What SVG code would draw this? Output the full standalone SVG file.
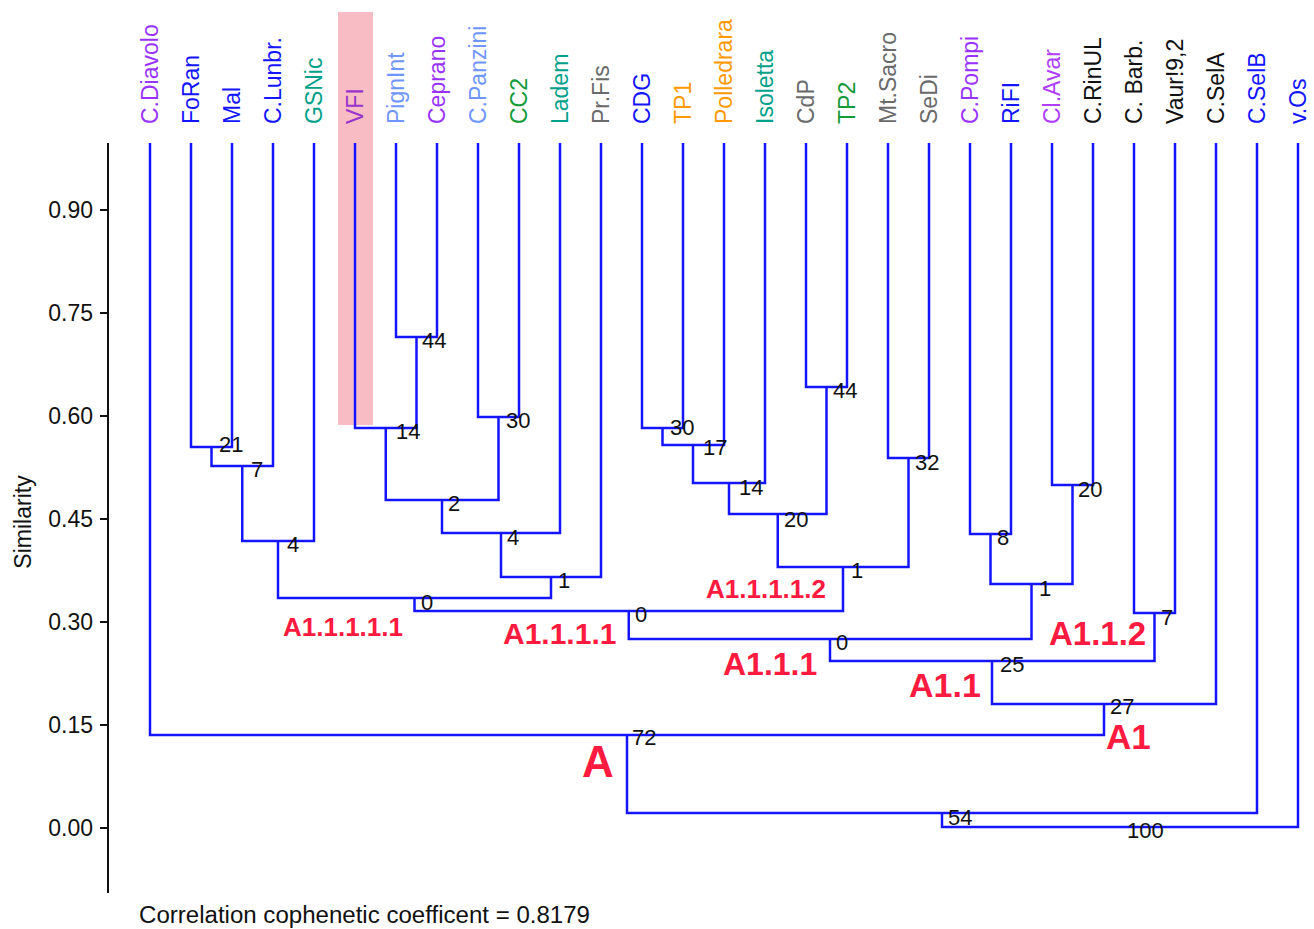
<svg xmlns="http://www.w3.org/2000/svg" width="1314" height="929" viewBox="0 0 1314 929">
<style>
.leaf{font-family:"Liberation Sans",Arial,sans-serif;font-size:23px}
.br{fill:none;stroke:#1414ff;stroke-width:2.5}
.ax{fill:none;stroke:#111;stroke-width:2}
.nl{font-family:"Liberation Sans",Arial,sans-serif;font-size:22px;fill:#111}
.tk{font-family:"Liberation Sans",Arial,sans-serif;font-size:23px;fill:#111;text-anchor:end}
.cl{font-family:"Liberation Sans",Arial,sans-serif;font-weight:bold;fill:#ff1a40}
.vi{fill:#9933ff}.bl{fill:#1414ff}.te{fill:#00a08a}.lb{fill:#6f95ff}.gr{fill:#159a3a}.gy{fill:#6a6a6a}.or{fill:#ff9900}.bk{fill:#111}
</style>
<rect x="338" y="12" width="35" height="413" fill="#f8bcc4"/>
<g id="axis">
<path class="ax" d="M108 143V893M100 210H108M100 313H108M100 416H108M100 519H108M100 622H108M100 725H108M100 828H108"/>
<text class="tk" x="93" y="218">0.90</text>
<text class="tk" x="93" y="321">0.75</text>
<text class="tk" x="93" y="424">0.60</text>
<text class="tk" x="93" y="527">0.45</text>
<text class="tk" x="93" y="630">0.30</text>
<text class="tk" x="93" y="733">0.15</text>
<text class="tk" x="93" y="836">0.00</text>
<text font-family="Liberation Sans,Arial,sans-serif" font-size="23" fill="#111" text-anchor="middle" transform="translate(31,522) rotate(-90)">Similarity</text>
</g>
<g id="leaves">
<text class="leaf vi" transform="translate(158,124) rotate(-90)">C.Diavolo</text>
<text class="leaf bl" transform="translate(199,124) rotate(-90)">FoRan</text>
<text class="leaf bl" transform="translate(240,124) rotate(-90)">Mal</text>
<text class="leaf bl" transform="translate(281,124) rotate(-90)">C.Lunbr.</text>
<text class="leaf te" transform="translate(322,124) rotate(-90)">GSNic</text>
<text class="leaf" fill="#9933cc" transform="translate(363,124) rotate(-90)">VFI</text>
<text class="leaf lb" transform="translate(404,124) rotate(-90)">PignInt</text>
<text class="leaf vi" transform="translate(445,124) rotate(-90)">Ceprano</text>
<text class="leaf lb" transform="translate(486,124) rotate(-90)">C.Panzini</text>
<text class="leaf gr" transform="translate(527,124) rotate(-90)">CC2</text>
<text class="leaf te" transform="translate(568,124) rotate(-90)">Ladem</text>
<text class="leaf gy" transform="translate(609,124) rotate(-90)">Pr.Fis</text>
<text class="leaf bl" transform="translate(650,124) rotate(-90)">CDG</text>
<text class="leaf or" transform="translate(691,124) rotate(-90)">TP1</text>
<text class="leaf or" transform="translate(732,124) rotate(-90)">Polledrara</text>
<text class="leaf te" transform="translate(773,124) rotate(-90)">Isoletta</text>
<text class="leaf gy" transform="translate(814,124) rotate(-90)">CdP</text>
<text class="leaf gr" transform="translate(855,124) rotate(-90)">TP2</text>
<text class="leaf gy" transform="translate(896,124) rotate(-90)">Mt.Sacro</text>
<text class="leaf gy" transform="translate(937,124) rotate(-90)">SeDi</text>
<text class="leaf vi" transform="translate(978,124) rotate(-90)">C.Pompi</text>
<text class="leaf bl" transform="translate(1019,124) rotate(-90)">RiFI</text>
<text class="leaf" fill="#b040ff" transform="translate(1060,124) rotate(-90)">Cl.Avar</text>
<text class="leaf bk" transform="translate(1101,124) rotate(-90)">C.RinUL</text>
<text class="leaf bk" transform="translate(1142,124) rotate(-90)">C. Barb.</text>
<text class="leaf bk" transform="translate(1183,124) rotate(-90)">Vaur!9,2</text>
<text class="leaf bk" transform="translate(1224,124) rotate(-90)">C.SelA</text>
<text class="leaf bl" transform="translate(1265,124) rotate(-90)">C.SelB</text>
<text class="leaf bl" transform="translate(1306,124) rotate(-90)">v.Os</text>
</g>
<g id="connectors">
<path class="br" d="M191 143V447H232V143"/>
<path class="br" d="M211.5 447V466H273V143"/>
<path class="br" d="M242.25 466V541H314V143"/>
<path class="br" d="M396 143V337H437V143"/>
<path class="br" d="M355 143V428H416.5V337"/>
<path class="br" d="M478 143V417H519V143"/>
<path class="br" d="M385.75 428V500H498.5V417"/>
<path class="br" d="M442 500V533H560V143"/>
<path class="br" d="M501 533V577H601V143"/>
<path class="br" d="M278 541V598H551V577"/>
<path class="br" d="M642 143V428H683V143"/>
<path class="br" d="M662.5 428V445H724V143"/>
<path class="br" d="M693 445V483H765V143"/>
<path class="br" d="M806 143V387H847V143"/>
<path class="br" d="M729 483V514H826.5V387"/>
<path class="br" d="M888 143V458H929V143"/>
<path class="br" d="M777.75 514V567H908.5V458"/>
<path class="br" d="M414.5 598V611H843V567"/>
<path class="br" d="M970 143V534H1011V143"/>
<path class="br" d="M1052 143V485H1093V143"/>
<path class="br" d="M990.5 534V584H1072.5V485"/>
<path class="br" d="M628.75 611V639H1031.5V584"/>
<path class="br" d="M1134 143V613H1175V143"/>
<path class="br" d="M830 639V661H1154.5V613"/>
<path class="br" d="M992 661V704H1216V143"/>
<path class="br" d="M150 143V735H1104V704"/>
<path class="br" d="M627 735V813H1257V143"/>
<path class="br" d="M942 813V827H1298V143"/>
</g>
<g id="node-labels">
<text class="nl" x="219" y="452">21</text>
<text class="nl" x="251" y="477">7</text>
<text class="nl" x="287" y="552">4</text>
<text class="nl" x="422" y="348">44</text>
<text class="nl" x="396" y="439">14</text>
<text class="nl" x="506" y="428">30</text>
<text class="nl" x="448" y="511">2</text>
<text class="nl" x="507" y="545">4</text>
<text class="nl" x="558" y="588">1</text>
<text class="nl" x="421" y="610">0</text>
<text class="nl" x="670" y="435">30</text>
<text class="nl" x="703" y="455">17</text>
<text class="nl" x="739" y="495">14</text>
<text class="nl" x="833" y="398">44</text>
<text class="nl" x="784" y="527">20</text>
<text class="nl" x="915" y="470">32</text>
<text class="nl" x="851" y="578">1</text>
<text class="nl" x="635" y="622">0</text>
<text class="nl" x="836" y="650">0</text>
<text class="nl" x="997" y="545">8</text>
<text class="nl" x="1078" y="497">20</text>
<text class="nl" x="1039" y="596">1</text>
<text class="nl" x="1161" y="625">7</text>
<text class="nl" x="1000" y="672">25</text>
<text class="nl" x="1110" y="714">27</text>
<text class="nl" x="632" y="745">72</text>
<text class="nl" x="948" y="825">54</text>
<text class="nl" x="1127" y="838">100</text>
</g>
<g id="cluster-labels">
<text class="cl" x="283" y="636" font-size="26">A1.1.1.1.1</text>
<text class="cl" x="503" y="644" font-size="30">A1.1.1.1</text>
<text class="cl" x="706" y="598" font-size="26">A1.1.1.1.2</text>
<text class="cl" x="723" y="675" font-size="32">A1.1.1</text>
<text class="cl" x="1049" y="645" font-size="33">A1.1.2</text>
<text class="cl" x="909" y="697" font-size="34">A1.1</text>
<text class="cl" x="1106" y="749" font-size="35">A1</text>
<text class="cl" x="582" y="777" font-size="44">A</text>
</g>
<text font-family="Liberation Sans,Arial,sans-serif" font-size="23" fill="#111" x="139" y="923" textLength="451" lengthAdjust="spacingAndGlyphs">Correlation cophenetic coefficent = 0.8179</text>
</svg>
